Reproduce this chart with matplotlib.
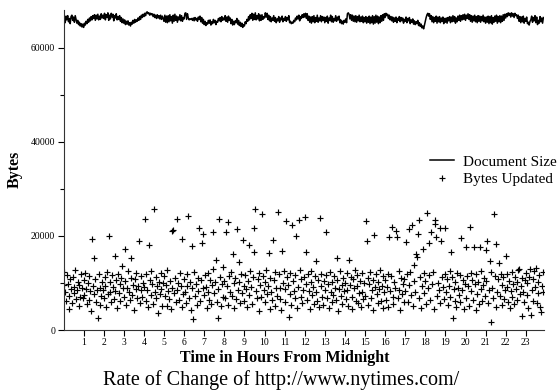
import numpy as np
import matplotlib
matplotlib.use("Agg")
import matplotlib.pyplot as plt
from matplotlib.ticker import MultipleLocator

plt.rcParams["font.family"] = ["Liberation Serif", "DejaVu Serif"]

# samples every 2.5 minutes, values in thousands of bytes
SAMPLE_MINUTES = 2.5

doc_size_k = [
    65.6, 66.4, 65.3, 66.7, 65.9, 66.8, 65.5, 66.2, 65.1, 66.6, 66.9, 65.8, 66.5, 65.4, 66.8, 66.0, 65.2, 65.8, 64.9, 65.4, 64.6, 65.1, 64.4, 65.0,
    64.3, 65.2, 64.8, 65.6, 65.1, 66.0, 65.4, 66.3, 65.7, 66.6, 65.9, 66.8, 66.2, 67.0, 65.8, 66.9, 66.1, 67.1, 65.9, 66.7, 66.0, 67.2, 66.3, 66.9,
    66.2, 67.3, 65.9, 67.0, 66.4, 67.4, 65.8, 66.9, 66.1, 67.3, 66.5, 67.1, 65.7, 66.8, 66.3, 67.2, 65.9, 66.6, 66.0, 66.8, 65.6, 66.4, 65.3, 66.1,
    65.2, 65.9, 64.9, 65.6, 65.0, 65.7, 64.8, 65.3, 64.6, 65.4, 65.0, 65.8, 65.2, 66.0, 65.4, 65.9, 65.6, 66.3, 65.8, 66.6, 66.0, 66.9, 66.4, 67.1,
    66.6, 67.3, 66.8, 67.5, 67.6, 67.2, 67.4, 66.9, 67.3, 67.0, 67.2, 66.6, 67.1, 66.4, 66.9, 66.2, 67.0, 66.3, 66.8, 66.1, 66.9, 66.0, 66.7, 66.2,
    65.6, 66.9, 65.4, 66.7, 65.3, 66.8, 65.5, 67.0, 65.7, 66.6, 65.2, 66.9, 65.6, 67.1, 65.8, 66.7, 65.4, 66.5, 65.9, 67.0, 65.7, 66.8, 65.6, 66.4,
    66.1, 67.3, 67.4, 66.0, 67.2, 66.3, 65.9, 66.1, 66.0, 66.2, 65.8, 66.3, 65.7, 66.4, 65.9, 66.2, 65.6, 66.5, 66.0, 66.7, 65.5, 66.4, 65.2, 66.0,
    64.9, 65.6, 64.7, 65.3, 65.0, 65.8, 65.2, 65.9, 64.8, 65.5, 65.1, 66.0, 65.3, 65.8, 64.9, 65.6, 65.4, 66.2, 65.7, 66.4, 65.5, 66.6, 65.8, 66.3,
    65.9, 66.8, 65.6, 66.5, 65.4, 66.7, 65.8, 66.3, 65.1, 66.0, 64.8, 65.6, 64.9, 65.7, 65.3, 66.2, 65.0, 65.8, 64.7, 65.4, 64.5, 65.2, 64.3, 64.9,
    64.6, 65.5, 65.1, 66.0, 65.6, 66.6, 65.9, 67.0, 66.2, 67.3, 65.8, 67.1, 66.0, 67.4, 65.9, 66.8, 66.1, 67.2, 65.7, 66.9, 65.8, 67.0, 66.0, 66.6,
    66.3, 67.4, 66.5, 67.3, 66.0, 66.9, 65.7, 66.6, 65.5, 66.3, 65.8, 66.8, 65.6, 66.4, 65.3, 66.1, 65.7, 66.6, 65.4, 66.3, 65.9, 66.7, 65.5, 66.2,
    65.8, 66.6, 65.6, 66.4, 65.9, 66.8, 65.3, 65.6, 65.1, 65.4, 65.2, 65.8, 65.5, 66.3, 65.9, 66.7, 66.1, 66.9, 65.7, 66.6, 66.2, 67.0, 66.4, 67.2,
    66.5, 67.3, 66.2, 67.2, 65.8, 66.7, 65.4, 66.5, 65.2, 66.6, 65.5, 66.8, 65.3, 66.4, 65.6, 66.9, 65.4, 66.3, 65.7, 66.8, 65.5, 66.6, 65.8, 66.5,
    65.3, 66.4, 65.6, 66.7, 65.2, 66.3, 65.8, 66.9, 65.5, 66.6, 65.4, 66.2, 65.7, 66.8, 65.6, 66.5, 65.9, 66.7, 65.3, 65.9, 65.1, 65.6, 65.0, 65.8,
    65.4, 66.1, 65.3, 67.2, 67.4, 67.1, 66.1, 67.0, 65.8, 66.9, 65.6, 66.7, 65.5, 66.8, 65.4, 66.6, 65.7, 66.9, 65.5, 66.5, 65.6, 66.7, 65.3, 66.4,
    65.5, 66.6, 65.2, 66.4, 65.4, 66.7, 65.1, 66.5, 65.3, 66.8, 65.0, 66.6, 65.2, 66.9, 65.4, 66.7, 65.1, 66.5, 65.3, 66.8, 65.6, 67.0, 65.8, 67.2,
    66.4, 67.3, 66.8, 67.1, 66.2, 66.9, 65.9, 66.6, 65.7, 66.5, 65.4, 66.3, 65.6, 66.5, 65.3, 66.2, 65.8, 66.6, 65.5, 66.4, 65.7, 66.3, 65.2, 66.0,
    65.6, 66.5, 65.3, 66.2, 65.7, 66.4, 65.1, 65.9, 65.4, 66.1, 65.0, 65.7, 64.9, 65.5, 65.1, 65.8, 64.7, 65.3, 64.5, 65.0, 64.2, 64.6, 64.0, 64.8,
    65.5, 66.4, 67.0, 67.3, 66.7, 67.2, 66.0, 66.8, 65.5, 66.6, 65.3, 66.4, 65.6, 66.7, 65.2, 66.5, 65.5, 66.6, 65.3, 66.3, 65.6, 66.5, 65.1, 66.2,
    65.4, 66.3, 65.2, 66.4, 65.7, 66.6, 65.3, 66.5, 65.5, 66.8, 65.6, 66.6, 65.2, 66.3, 65.5, 66.7, 65.8, 66.9, 65.6, 66.8, 65.9, 67.0, 66.0, 67.1,
    65.8, 66.9, 66.2, 67.2, 66.0, 67.0, 65.6, 66.8, 65.4, 66.7, 65.7, 66.9, 65.5, 66.6, 65.3, 66.8, 65.6, 66.7, 65.4, 66.6, 65.7, 66.9, 65.5, 66.5,
    65.2, 66.5, 65.4, 66.7, 65.1, 66.6, 65.3, 66.8, 65.0, 66.4, 65.4, 66.7, 65.6, 66.9, 65.2, 66.6, 65.5, 66.8, 65.3, 66.7, 65.6, 67.0, 65.8, 67.1,
    66.3, 67.2, 66.6, 67.4, 66.9, 67.3, 66.5, 67.4, 66.7, 67.2, 66.4, 67.3, 66.8, 67.0, 66.2, 66.9, 65.6, 66.6, 65.3, 66.5, 65.5, 66.7, 65.2, 66.2,
    65.6, 66.5, 65.1, 65.4, 64.8, 65.6, 65.9, 66.7, 65.4, 66.4, 65.7, 66.8, 65.3, 66.5, 64.9, 65.8, 65.2, 66.6, 65.5, 66.3, 65.2, 66.4,
]

bytes_updated_k = [
    9.5, 12.4, 8.1, 6.2, 11.6, 9.8, 4.5, 7.3, 10.9, 8.7, 5.8, 11.2, 9.1, 7.9, 12.8, 6.6, 8.4, 10.3, 5.2, 9.6, 7.1, 11.8, 8.9, 6.9,
    10.6, 7.4, 12.1, 8.8, 5.6, 9.9, 6.3, 11.4, 8.2, 4.1, 19.4, 9.3, 15.3, 7.7, 10.8, 6.0, 8.6, 2.5, 11.9, 9.0, 5.4, 7.2, 10.1, 8.5,
    6.8, 11.3, 9.4, 4.9, 12.3, 7.6, 20.0, 10.2, 8.0, 5.9, 11.7, 9.2, 6.5, 8.3, 15.7, 10.7, 4.6, 12.0, 7.8, 9.7, 6.1, 11.1, 13.6, 8.9,
    7.0, 10.4, 17.2, 5.3, 9.0, 12.6, 8.1, 6.4, 11.0, 15.3, 7.5, 9.6, 4.3, 10.9, 8.7, 12.2, 6.7, 9.3, 18.9, 5.7, 11.5, 8.4, 7.1, 10.0,
    9.1, 23.6, 6.2, 11.8, 8.5, 4.8, 18.0, 10.6, 7.4, 12.5, 9.8, 5.5, 25.7, 8.0, 11.3, 6.9, 9.4, 3.6, 10.2, 7.7, 12.1, 8.8, 5.1, 9.9,
    11.4, 7.2, 9.6, 5.0, 12.7, 8.3, 6.6, 10.5, 4.4, 9.0, 21.0, 21.2, 7.9, 11.1, 5.9, 8.6, 23.6, 10.0, 6.3, 12.2, 9.3, 4.9, 19.4, 7.6,
    10.8, 8.1, 5.7, 11.9, 9.4, 24.2, 6.8, 10.3, 4.2, 8.9, 17.9, 2.4, 12.4, 7.3, 9.7, 5.4, 11.0, 8.2, 21.7, 6.1, 10.6, 18.5, 9.0, 20.4,
    7.5, 11.6, 9.2, 4.7, 12.1, 8.0, 6.4, 10.7, 5.6, 9.5, 12.9, 20.8, 7.8, 10.1, 14.9, 6.0, 8.7, 2.5, 23.6, 11.2, 5.1, 9.8, 13.4, 7.0,
    10.4, 6.7, 20.8, 9.3, 23.0, 5.3, 11.5, 8.1, 12.3, 7.2, 16.2, 4.6, 9.9, 11.0, 6.5, 21.5, 8.6, 10.2, 14.5, 5.8, 12.0, 7.9, 19.1, 9.4,
    6.2, 11.7, 8.8, 4.9, 10.5, 18.1, 7.4, 12.6, 9.1, 5.5, 11.3, 16.6, 21.7, 25.7, 8.2, 6.8, 10.8, 4.0, 12.2, 9.6, 7.1, 24.7, 11.4, 8.4,
    5.9, 10.1, 12.8, 7.6, 9.3, 16.4, 4.5, 11.1, 8.0, 6.3, 19.1, 10.6, 5.2, 12.4, 9.0, 7.3, 25.1, 11.8, 6.6, 8.9, 4.3, 16.8, 10.0, 12.5,
    8.7, 6.0, 23.2, 11.3, 9.5, 2.8, 7.7, 12.1, 5.4, 22.3, 10.4, 8.3, 6.9, 11.6, 20.0, 4.7, 9.2, 23.4, 12.7, 7.0, 10.9, 5.8, 8.5, 11.2,
    24.0, 9.7, 16.6, 6.4, 11.9, 8.2, 4.4, 10.3, 12.5, 7.5, 9.1, 5.6, 11.4, 14.7, 8.0, 6.2, 10.7, 4.9, 23.8, 9.4, 12.0, 7.1, 5.3, 10.5,
    8.6, 20.8, 11.7, 6.7, 9.8, 4.6, 12.3, 8.1, 10.2, 5.9, 7.4, 11.5, 9.0, 6.3, 15.3, 10.6, 4.1, 8.8, 12.6, 7.2, 9.5, 5.5, 11.0, 8.3,
    10.0, 6.5, 12.2, 8.4, 5.1, 14.9, 9.6, 11.3, 7.0, 4.4, 10.8, 8.9, 12.7, 6.1, 9.3, 11.6, 5.7, 7.8, 10.4, 4.8, 12.1, 8.0, 6.6, 9.9,
    7.3, 23.2, 18.9, 11.1, 5.4, 9.7, 12.4, 6.9, 8.5, 10.6, 4.2, 20.2, 9.1, 11.9, 7.6, 5.8, 10.3, 8.7, 12.8, 6.2, 9.4, 4.7, 11.4, 8.1,
    10.7, 6.4, 9.2, 12.0, 4.9, 19.8, 8.3, 11.5, 21.9, 7.1, 5.5, 10.1, 9.0, 21.1, 19.8, 6.8, 12.6, 8.6, 4.3, 11.0, 7.7, 9.8, 5.9, 10.9,
    8.2, 18.7, 11.8, 6.0, 9.5, 21.5, 12.3, 7.4, 22.3, 5.2, 13.8, 10.4, 8.0, 16.2, 15.5, 20.4, 6.7, 23.4, 11.2, 4.6, 9.3, 17.2, 12.1, 7.8,
    10.5, 5.6, 24.9, 8.9, 11.7, 18.5, 6.3, 20.8, 9.7, 12.4, 4.4, 23.4, 22.5, 19.8, 7.2, 10.0, 8.4, 21.7, 5.7, 18.9, 11.3, 9.1, 6.6, 12.0,
    21.7, 8.0, 10.8, 5.3, 9.4, 12.5, 7.0, 16.6, 11.2, 2.6, 8.7, 6.1, 10.3, 4.8, 12.2, 9.0, 7.5, 11.6, 5.9, 19.6, 8.5, 10.7, 4.5, 9.8,
    17.7, 6.8, 11.4, 9.3, 5.0, 21.9, 12.1, 8.2, 10.6, 6.4, 17.7, 9.7, 4.3, 11.8, 7.6, 10.2, 5.6, 17.7, 8.8, 12.6, 6.2, 9.5, 11.1, 7.3,
    17.0, 10.4, 18.9, 5.8, 8.6, 14.7, 1.6, 12.3, 9.0, 6.7, 24.7, 11.5, 18.3, 4.9, 8.1, 10.8, 14.3, 7.2, 12.0, 5.4, 9.6, 11.3, 6.5, 8.4,
    15.7, 9.2, 11.9, 6.0, 10.5, 4.7, 8.3, 12.4, 7.1, 9.8, 5.5, 11.2, 8.7, 6.3, 10.1, 12.7, 13.0, 7.6, 9.4, 3.0, 11.0, 8.0, 5.9, 10.6,
    12.1, 7.4, 9.9, 4.6, 11.3, 13.0, 3.2, 8.5, 10.8, 6.2, 12.5, 9.1, 13.1, 5.7, 10.2, 7.9, 11.6, 4.9, 3.8, 9.4, 12.3, 8.1,
]

hour_ticks = list(range(1, 24))
y_ticks = [0, 20000, 40000, 60000]

hours = np.arange(len(doc_size_k)) * SAMPLE_MINUTES / 60.0
doc_size = np.array(doc_size_k) * 1000
bytes_updated = np.array(bytes_updated_k) * 1000

fig = plt.figure(figsize=(5.58, 3.92), dpi=100)
ax = fig.add_axes([63.5 / 558, 1 - 330 / 392, 480.8 / 558, 320 / 392])

ax.plot(hours, doc_size, color="black", lw=1.1, label="Document Size")
ax.plot(hours, bytes_updated, "k+", ms=4, mew=0.85, label="Bytes Updated")

ax.set_xlim(0, 23.92)
ax.set_ylim(0, 68000)
ax.set_xticks(hour_ticks)
ax.set_yticks(y_ticks)
ax.yaxis.set_minor_locator(MultipleLocator(10000))
ax.tick_params(axis="both", which="major", labelsize=7, length=4, width=0.8, pad=2)
ax.tick_params(axis="y", which="minor", length=3, width=0.8)
ax.spines["top"].set_visible(False)
ax.spines["right"].set_visible(False)
for s in ("left", "bottom"):
    ax.spines[s].set_color("#333333")

fig.legend(loc="center right", bbox_to_anchor=(557 / 558, 1 - 170.5 / 392), frameon=False,
           borderaxespad=0, borderpad=0, fontsize=11, handlelength=1.6,
           handletextpad=0.6, labelspacing=0.25)

fig.text(15 / 558, 1 - 169 / 392, "Bytes", rotation=90, ha="center", va="center",
         fontsize=11.5, fontweight="bold")
fig.text(284.5 / 558, 1 - 358 / 392, "Time in Hours From Midnight", ha="center",
         va="center", fontsize=11.5, fontweight="bold")
fig.text(281.5 / 558, 1 - 380 / 392, "Rate of Change of http://www.nytimes.com/",
         ha="center", va="center", fontsize=14.5)

fig.savefig("out.png", dpi=100)
